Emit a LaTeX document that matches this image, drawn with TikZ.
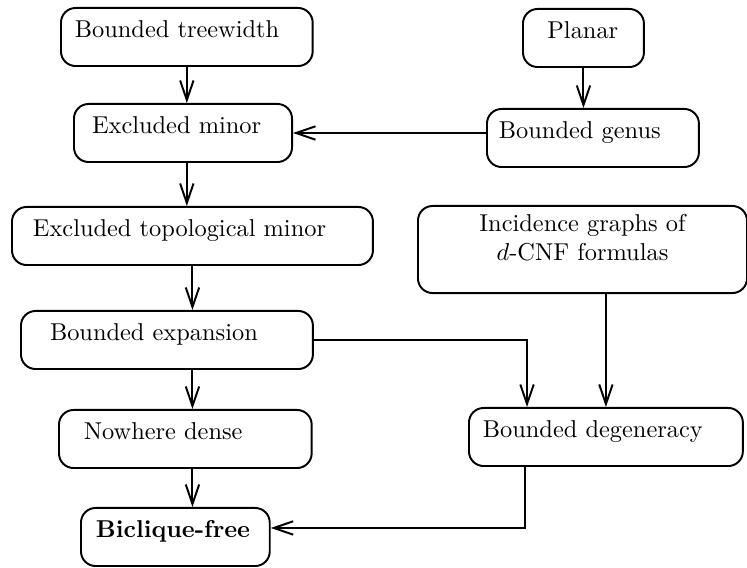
\documentclass[tikz,border=0pt]{standalone}
\usetikzlibrary{arrows.meta}
\begin{document}
\begin{tikzpicture}[x=0.41pt,y=-0.41pt,line cap=round,
    stage/.style 2 args={draw,thick,rounded corners=6pt,anchor=north west,align=left,
      inner ysep=3pt,text height=9.3pt,text depth=8.5pt,inner xsep=#1,text width=#2},
    >={Straight Barb[length=8pt,width=5.5pt]}]
    \useasboundingbox (0,0) rectangle (747,568);
    \node[stage={5.7pt}{91.8pt}] (tw) at (60,7) {Bounded treewidth};
    \node[stage={7.4pt}{74.6pt}] (em) at (73,103) {Excluded minor};
    \node[stage={10pt}{29.6pt}] (pl) at (522,8) {Planar};
    \node[stage={4.9pt}{77.1pt}] (gen) at (486,108) {Bounded genus};
    \node[stage={5pt}{124.9pt},align=center,text height=7.3pt,text depth=22.4pt] (inc) at (417,205) {Incidence graphs of\\$d$-CNF formulas};
    \node[stage={8.6pt}{130.8pt}] (topo) at (11,206) {Excluded topological minor};
    \node[stage={11.9pt}{95.9pt}] (exp) at (20,310) {Bounded expansion};
    \node[stage={10.2pt}{83.2pt}] (nd) at (58,409) {Nowhere dense};
    \node[stage={5.7pt}{100.9pt}] (deg) at (468,407) {Bounded degeneracy};
    \node[stage={6.1pt}{65.2pt}] (bf) at (80,507) {\textbf{Biclique-free}};
    \draw[thick,->] (tw) -- (tw |- em.north);
    \draw[thick,->] (pl) -- (pl |- gen.north);
    \draw[thick,->] (gen.west |- em) -- (em);
    \draw[thick,->] (em.south -| tw) -- (topo.north -| tw);
    \draw[thick,->] (topo) -- (topo |- exp.north);
    \draw[thick,->] (exp.south -| topo) -- (nd.north -| topo);
    \draw[thick,->] (nd.south -| topo) -- (bf.north -| topo);
    \draw[thick,->] (exp) -| ([xshift=24.2pt]deg.north west);
    \draw[thick,->] (inc.south -| deg) -- (deg);
    \draw[thick,->] ([xshift=23.4pt]deg.south west) |- ([yshift=3.7pt]bf.east);
  \end{tikzpicture}
\end{document}
